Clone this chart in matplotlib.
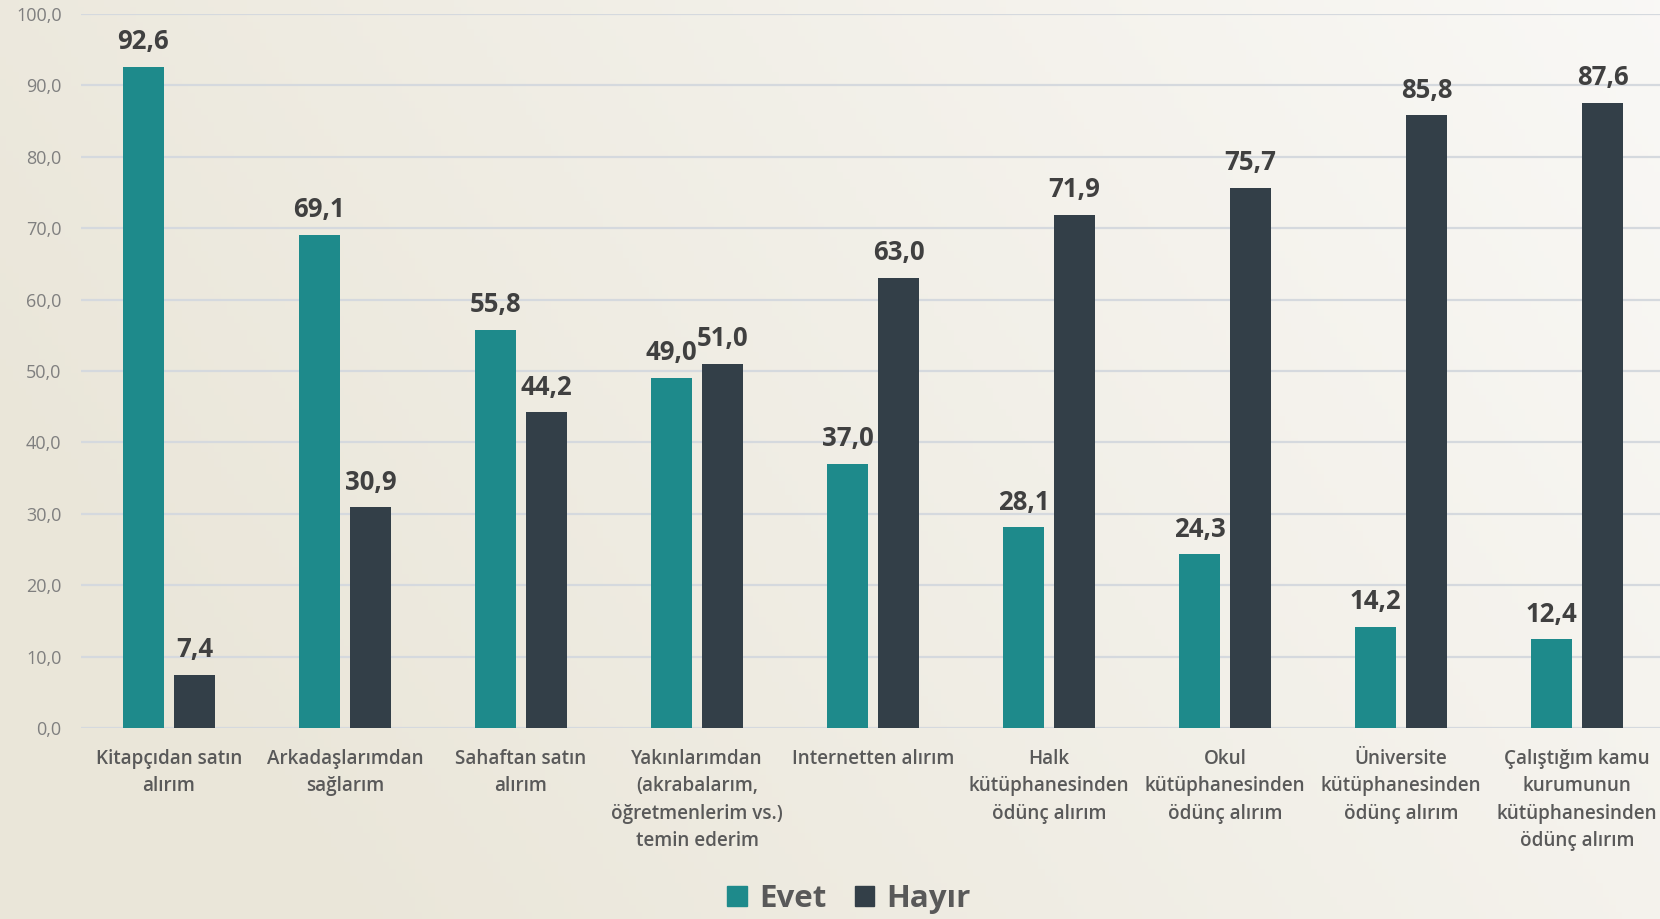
import numpy as np
import matplotlib
matplotlib.use("Agg")
import matplotlib.pyplot as plt
from matplotlib.patches import Patch

categories = [
    "Kitapçıdan satın\nalırım",
    "Arkadaşlarımdan\nsağlarım",
    "Sahaftan satın\nalırım",
    "Yakınlarımdan\n(akrabalarım,\nöğretmenlerim vs.)\ntemin ederim",
    "Internetten alırım",
    "Halk\nkütüphanesinden\nödünç alırım",
    "Okul\nkütüphanesinden\nödünç alırım",
    "Üniversite\nkütüphanesinden\nödünç alırım",
    "Çalıştığım kamu\nkurumunun\nkütüphanesinden\nödünç alırım",
]
evet = [92.6, 69.1, 55.8, 49.0, 37.0, 28.1, 24.3, 14.2, 12.4]
hayir = [7.4, 30.9, 44.2, 51.0, 63.0, 71.9, 75.7, 85.8, 87.6]
series_names = ["Evet", "Hayır"]
yticks = [0, 10, 20, 30, 40, 50, 60, 70, 80, 90, 100]

plt.rcParams['font.family'] = ['Open Sans', 'DejaVu Sans']

W, H = 1660, 919
fig = plt.figure(figsize=(W / 100, H / 100), dpi=100)

# background gradient (beige on the left, lighter toward the right)
bg = fig.add_axes([0, 0, 1, 1], zorder=-10)
xs = np.linspace(0, 1, 256)
ys = np.linspace(0, 1, 128)
X, Y = np.meshgrid(xs, ys)
t = np.clip(0.8 * X + 0.3 * (1 - Y) - 0.15, 0, 1)
c0 = np.array([0xEA, 0xE6, 0xD9]) / 255
c1 = np.array([0xFA, 0xF9, 0xF7]) / 255
img = c0[None, None, :] * (1 - t[..., None]) + c1[None, None, :] * t[..., None]
bg.imshow(img, aspect='auto', extent=[0, 1, 0, 1], origin='upper')
bg.axis('off')

ax = fig.add_axes([81 / W, 1 - 728 / H, 1584 / W, (728 - 14) / H])
ax.patch.set_alpha(0)

x = np.arange(len(categories))
bw = 0.228
gap = 0.062
teal = "#1E8A8B"
dark = "#333F48"
b1 = ax.bar(x - (bw + gap) / 2, evet, bw, color=teal, zorder=3)
b2 = ax.bar(x + (bw + gap) / 2, hayir, bw, color=dark, zorder=3)

for bars, vals in ((b1, evet), (b2, hayir)):
    for r, v in zip(bars, vals):
        ax.annotate(f"{v:.1f}".replace(".", ","),
                    (r.get_x() + r.get_width() / 2, v),
                    xytext=(0, 8.5), textcoords="offset points",
                    ha="center", va="bottom", fontsize=18.5,
                    fontweight="bold", color="#404040", zorder=4)

ax.set_xlim(-0.5, len(categories) - 0.5)
ax.set_ylim(0, 100)
ax.set_yticks(yticks)
ax.set_yticklabels([f"{v:.1f}".replace(".", ",") for v in yticks],
                   fontsize=13, color="#7F7F7F")
ax.set_xticks(x)
ax.set_xticklabels(categories, fontsize=13.6, color="#595959",
                   fontweight="semibold", linespacing=1.49)
ax.tick_params(axis='y', length=0, pad=14)
ax.tick_params(axis='x', length=0, pad=15)
ax.grid(axis='y', color="#D5D9DE", linewidth=1.6, zorder=0)
ax.set_axisbelow(True)
for s in ax.spines.values():
    s.set_visible(False)

handles = [Patch(color=teal), Patch(color=dark)]
fig.legend(handles, series_names, loc="center", bbox_to_anchor=(849 / W, 1 - 899 / H),
           ncol=2, frameon=False, handlelength=0.62, handleheight=0.62,
           handletextpad=0.4, columnspacing=0.9,
           prop={'size': 22.5, 'weight': 'bold'})
for txt in fig.legends[0].get_texts():
    txt.set_color("#595959")

fig.savefig("out.png", dpi=100)
